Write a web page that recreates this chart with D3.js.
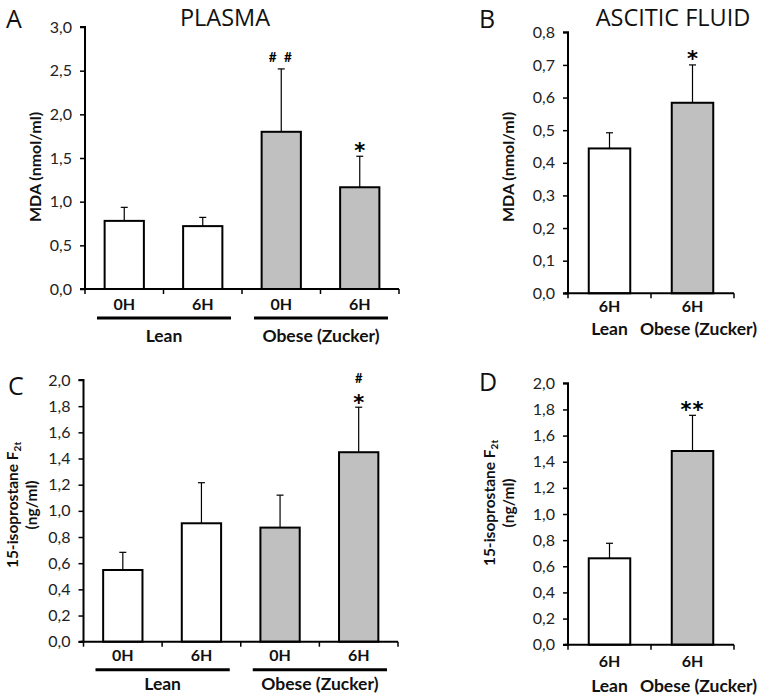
<!DOCTYPE html>
<html><head><meta charset="utf-8">
<script src="https://cdn.jsdelivr.net/npm/d3@7"></script>
<style>
body{margin:0;background:#fff;}
svg{display:block;font-family:Lato,"Open Sans",sans-serif;}
</style></head>
<body>
<svg id="chart" width="773" height="698"></svg>
<script>
// ---- data ----
const plasmaCategories = ["0H", "6H", "0H", "6H"];
const plasmaGroups = ["Lean", "Lean", "Obese (Zucker)", "Obese (Zucker)"];
const asciticCategories = ["6H", "6H"];
const asciticGroups = ["Lean", "Obese (Zucker)"];

const mdaPlasma = [0.78, 0.72, 1.80, 1.165];
const mdaPlasmaErr = [0.155, 0.10, 0.72, 0.355];
const mdaPlasmaSig = ["", "", "##", "*"];

const mdaAscitic = [0.444, 0.584];
const mdaAsciticErr = [0.048, 0.116];
const mdaAsciticSig = ["", "*"];

const isoPlasma = [0.548, 0.905, 0.872, 1.448];
const isoPlasmaErr = [0.135, 0.31, 0.248, 0.344];
const isoPlasmaSig = ["", "", "", "#|*"];

const isoAscitic = [0.661, 1.482];
const isoAsciticErr = [0.115, 0.273];
const isoAsciticSig = ["", "**"];

const mdaPlasmaTicks = [0, 0.5, 1.0, 1.5, 2.0, 2.5, 3.0];
const mdaAsciticTicks = [0, 0.1, 0.2, 0.3, 0.4, 0.5, 0.6, 0.7, 0.8];
const isoTicks = [0, 0.2, 0.4, 0.6, 0.8, 1.0, 1.2, 1.4, 1.6, 1.8, 2.0];

const leanColor = "#ffffff", obeseColor = "#c0c0c0";

const svg = d3.select("#chart");
const fmt = v => d3.format(".1f")(v).replace(".", ",");

function panel(o) {
  const g = svg.append("g");
  const y = d3.scaleLinear().domain([0, o.ticks[o.ticks.length - 1]]).range([o.y0, o.yTop]);
  const x = d3.scaleBand().domain(d3.range(o.values.length)).range([o.x0, o.xEnd]).paddingInner(0).paddingOuter(0);
  const bw = x.bandwidth() * 0.5;

  // y axis
  const ya = d3.axisLeft(y).tickValues(o.ticks).tickFormat(fmt).tickSize(5).tickPadding(8);
  const yg = g.append("g").attr("transform", `translate(${o.x0},0)`).call(ya);
  yg.select(".domain").attr("stroke-width", 2).attr("d", `M${-5},${o.y0}H0V${o.yTop}H-5`);
  yg.selectAll(".tick line").attr("stroke-width", 1.5);
  yg.selectAll("text").attr("font-size", 16).attr("fill", "#222").attr("font-family", "Lato");

  // bars
  g.selectAll("rect.bar").data(o.values).join("rect")
    .attr("x", (d, i) => x(i) + (x.bandwidth() - bw) / 2)
    .attr("y", d => y(d))
    .attr("width", bw)
    .attr("height", d => o.y0 - y(d))
    .attr("fill", (d, i) => o.groups[i] === "Lean" ? leanColor : obeseColor)
    .attr("stroke", "#000").attr("stroke-width", 2);

  // error bars
  o.values.forEach((v, i) => {
    const cx = x(i) + x.bandwidth() / 2;
    const top = y(v + o.err[i]);
    g.append("line").attr("x1", cx).attr("x2", cx).attr("y1", y(v)).attr("y2", top).attr("stroke", "#000").attr("stroke-width", 1.2);
    g.append("line").attr("x1", cx - 3.5).attr("x2", cx + 3.5).attr("y1", top).attr("y2", top).attr("stroke", "#000").attr("stroke-width", 1.2);
    const s = o.sig[i];
    if (s) {
      const parts = s.split("|");
      const star = (txt, yy) => g.append("text").attr("x", cx).attr("y", yy).attr("text-anchor", "middle")
        .attr("font-size", 21).attr("font-weight", "bold").attr("font-family", "DejaVu Sans").attr("letter-spacing", txt.length > 1 ? 1 : 0).text(txt);
      if (parts.length === 2) {
        g.append("text").attr("x", cx).attr("y", top - 24).attr("text-anchor", "middle").attr("font-size", 13).attr("font-weight", "bold").text(parts[0]);
        star(parts[1], top + 2.5);
      } else if (s[0] === "#") {
        g.append("text").attr("x", cx).attr("y", top - 7).attr("text-anchor", "middle").attr("font-size", 13.5).attr("font-weight", "bold").attr("letter-spacing", 2).text(s.split("").join(" "));
      } else {
        star(s, top + 1.5);
      }
    }
  });

  // x axis
  const xa = g.append("g");
  xa.append("path").attr("d", `M${o.x0 - 3},${o.y0}H${o.xEnd}`).attr("stroke", "#000").attr("stroke-width", 2).attr("fill", "none");
  d3.range(o.values.length + 1).forEach(k => {
    const tx = k === o.values.length ? o.xEnd : x(k);
    xa.append("line").attr("x1", tx).attr("x2", tx).attr("y1", o.y0).attr("y2", o.y0 + 5).attr("stroke", "#000").attr("stroke-width", 1.5);
  });
  o.cats.forEach((c, i) => {
    g.append("text").attr("x", x(i) + x.bandwidth() / 2).attr("y", o.y0 + o.catDy)
      .attr("text-anchor", "middle").attr("font-size", 16).attr("font-weight", "bold").attr("fill", "#111").text(c);
  });

  // groups
  if (o.groupLines) {
    const uniq = Array.from(new Set(o.groups));
    uniq.forEach(gr => {
      const idx = o.groups.map((d, i) => d === gr ? i : -1).filter(i => i >= 0);
      const a = x(idx[0]) + 12, b = x(idx[idx.length - 1]) + x.bandwidth() - 11;
      g.append("line").attr("x1", a).attr("x2", b).attr("y1", o.y0 + o.lineDy).attr("y2", o.y0 + o.lineDy).attr("stroke", "#000").attr("stroke-width", 3);
      g.append("text").attr("x", (a + b) / 2).attr("y", o.y0 + o.groupDy).attr("text-anchor", "middle")
        .attr("font-size", 17.5).attr("font-weight", "bold").attr("fill", "#111").text(gr);
    });
  } else {
    o.groups.forEach((gr, i) => {
      g.append("text").attr("x", x(i) + x.bandwidth() / 2 + (i === 1 ? 6 : 0)).attr("y", o.y0 + o.groupDy).attr("text-anchor", "middle")
        .attr("font-size", 17.5).attr("font-weight", "bold").attr("fill", "#111").text(gr);
    });
  }

  // y label
  const yl = g.append("text").attr("transform", `translate(${o.ylx},${o.yly}) rotate(-90)`)
    .attr("text-anchor", "middle").attr("font-size", o.ylabel === "iso" ? 15.5 : 16).attr("font-weight", "bold").attr("fill", "#111");
  if (o.ylabel === "iso") {
    const t1 = yl.append("tspan").attr("x", 0).attr("y", 0);
    t1.append("tspan").text("15-isoprostane F");
    t1.append("tspan").attr("font-size", 10).attr("dy", 3).text("2t");
    yl.append("tspan").attr("x", 0).attr("y", 19).text("(ng/ml)");
  } else {
    yl.text(o.ylabel);
  }

  // panel letter and title
  svg.append("text").attr("x", o.letterX).attr("y", o.letterY).attr("font-size", 25).attr("font-family", "Open Sans").attr("fill", "#111").text(o.letter);
  if (o.title) svg.append("text").attr("x", o.titleX).attr("y", 25.5).attr("text-anchor", "middle").attr("font-size", 23.5).attr("font-family", "Open Sans").attr("fill", "#111").text(o.title);
}

panel({values: mdaPlasma, err: mdaPlasmaErr, sig: mdaPlasmaSig, cats: plasmaCategories, groups: plasmaGroups, ticks: mdaPlasmaTicks,
  x0: 85, xEnd: 399, y0: 289, yTop: 27, catDy: 21, lineDy: 29, groupDy: 53, groupLines: true,
  ylabel: "MDA (nmol/ml)", ylx: 41, yly: 167, letter: "A", letterX: 6, letterY: 28, title: "PLASMA", titleX: 225});

panel({values: mdaAscitic, err: mdaAsciticErr, sig: mdaAsciticSig, cats: asciticCategories, groups: asciticGroups, ticks: mdaAsciticTicks,
  x0: 568, xEnd: 734, y0: 293.3, yTop: 32.3, catDy: 19, lineDy: 0, groupDy: 42, groupLines: false,
  ylabel: "MDA (nmol/ml)", ylx: 514, yly: 167, letter: "B", letterX: 479, letterY: 28, title: "ASCITIC FLUID", titleX: 673});

panel({values: isoPlasma, err: isoPlasmaErr, sig: isoPlasmaSig, cats: plasmaCategories, groups: plasmaGroups, ticks: isoTicks,
  x0: 83.5, xEnd: 398, y0: 641.7, yTop: 380, catDy: 19, lineDy: 28, groupDy: 48, groupLines: true,
  ylabel: "iso", ylx: 18, yly: 505, letter: "C", letterX: 8, letterY: 395});

panel({values: isoAscitic, err: isoAsciticErr, sig: isoAsciticSig, cats: asciticCategories, groups: asciticGroups, ticks: isoTicks,
  x0: 568, xEnd: 734, y0: 644.7, yTop: 383.3, catDy: 22, lineDy: 0, groupDy: 47, groupLines: false,
  ylabel: "iso", ylx: 495, yly: 503, letter: "D", letterX: 479, letterY: 391});
</script>
</body></html>
